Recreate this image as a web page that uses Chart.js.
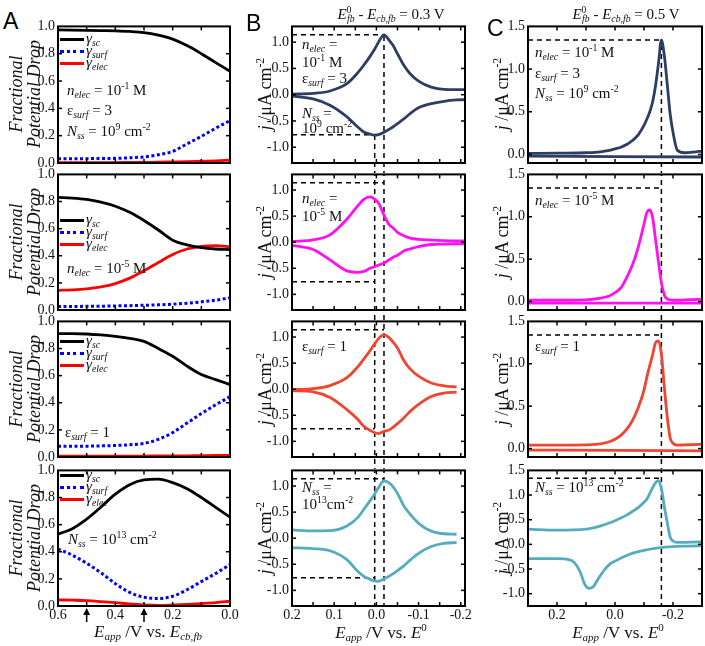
<!DOCTYPE html>
<html>
<head>
<meta charset="utf-8">
<script src="https://cdn.jsdelivr.net/npm/chart.js@4.4.0/dist/chart.umd.min.js"></script>
<style>
body { margin: 0; background: #fff; }
#fig { position: relative; width: 705px; height: 646px; overflow: hidden; background: #fff;
       font-family: 'Liberation Serif', serif; color: #111; }
#fig canvas { position: absolute; }
#fig sub, #fig sup { font-size: 0.65em; line-height: 0; }
#fig sub { vertical-align: -0.32em; font-style: italic; }
#fig sup { vertical-align: 0.6em; }
.t { position: absolute; white-space: nowrap; line-height: 1; transform: translateY(-50%); }
.tc { position: absolute; white-space: nowrap; line-height: 1; transform: translate(-50%, -50%); }
.rot { position: absolute; white-space: nowrap; line-height: 1; transform: translate(-50%, -50%) rotate(-90deg); }
.letter { position: absolute; font-family: 'Liberation Sans', sans-serif; font-size: 23px; line-height: 1; color: #000; }
.leg { position: absolute; width: 24px; height: 0; }
</style>
</head>
<body>
<div id="fig"></div>
<script>
// ---------- column A : fractional potential drop ----------
const aX = [0.6, 0.55, 0.5, 0.45, 0.4, 0.35, 0.3, 0.25, 0.2, 0.15, 0.1, 0.05, 0.0];
const a1Sc   = [0.975, 0.973, 0.971, 0.969, 0.967, 0.963, 0.955, 0.936, 0.907, 0.86, 0.80, 0.735, 0.672];
const a1Surf = [0.032, 0.032, 0.032, 0.033, 0.034, 0.038, 0.045, 0.06, 0.085, 0.14, 0.195, 0.255, 0.31];
const a1Elec = [0.002, 0.002, 0.002, 0.003, 0.003, 0.004, 0.005, 0.006, 0.008, 0.01, 0.013, 0.016, 0.02];
const a2Sc   = [0.83, 0.825, 0.815, 0.795, 0.765, 0.72, 0.66, 0.59, 0.515, 0.48, 0.46, 0.45, 0.445];
const a2Surf = [0.025, 0.026, 0.027, 0.028, 0.03, 0.032, 0.035, 0.038, 0.043, 0.05, 0.06, 0.072, 0.09];
const a2Elec = [0.145, 0.148, 0.155, 0.17, 0.195, 0.235, 0.29, 0.35, 0.41, 0.45, 0.47, 0.475, 0.465];
const a3Sc   = [0.91, 0.91, 0.907, 0.9, 0.89, 0.875, 0.853, 0.80, 0.743, 0.67, 0.608, 0.571, 0.534];
const a3Surf = [0.08, 0.08, 0.08, 0.082, 0.085, 0.09, 0.1, 0.13, 0.18, 0.25, 0.32, 0.385, 0.445];
const a3Elec = [0.006, 0.006, 0.006, 0.006, 0.007, 0.007, 0.007, 0.008, 0.008, 0.009, 0.01, 0.011, 0.012];
const a4Sc   = [0.53, 0.57, 0.64, 0.73, 0.825, 0.895, 0.93, 0.935, 0.91, 0.865, 0.80, 0.727, 0.655];
const a4Surf = [0.42, 0.375, 0.315, 0.245, 0.165, 0.10, 0.065, 0.055, 0.072, 0.12, 0.18, 0.24, 0.305];
const a4Elec = [0.045, 0.043, 0.04, 0.033, 0.025, 0.015, 0.008, 0.005, 0.008, 0.012, 0.018, 0.025, 0.035];
const aArrows = [0.5, 0.3];

// ---------- column B : CVs, E0fb - Ecb,fb = 0.3 V ----------
const bX = [0.2, 0.15, 0.11, 0.07, 0.045, 0.03, 0.015, 0.005, -0.005, -0.018,
            -0.03, -0.04, -0.05, -0.065, -0.08, -0.1, -0.13, -0.16, -0.19, -0.21];
const b1Up = [0.01, 0.025, 0.07, 0.21, 0.41, 0.56, 0.73, 0.855, 1.0, 1.14, 1.04, 0.93, 0.78, 0.56, 0.4, 0.26, 0.145, 0.1, 0.095, 0.095];
const b1Dn = [-0.025, -0.08, -0.2, -0.42, -0.61, -0.71, -0.75, -0.77, -0.76, -0.715, -0.66, -0.61, -0.55, -0.46, -0.36, -0.25, -0.17, -0.125, -0.1, -0.095];
const b2Up = [0.012, 0.045, 0.14, 0.44, 0.69, 0.82, 0.87, 0.83, 0.75, 0.52, 0.34, 0.27, 0.19, 0.125, 0.08, 0.055, 0.04, 0.03, 0.025, 0.025];
const b2Dn = [-0.06, -0.14, -0.34, -0.55, -0.58, -0.56, -0.5, -0.47, -0.44, -0.4, -0.34, -0.29, -0.25, -0.17, -0.13, -0.085, -0.044, -0.035, -0.03, -0.03];
const b3Up = [-0.01, 0.01, 0.07, 0.22, 0.42, 0.575, 0.74, 0.86, 0.97, 1.04, 0.99, 0.9, 0.79, 0.55, 0.39, 0.25, 0.12, 0.065, 0.045, null];
const b3Dn = [-0.03, -0.05, -0.16, -0.39, -0.57, -0.71, -0.79, -0.83, -0.85, -0.81, -0.78, -0.725, -0.66, -0.55, -0.425, -0.29, -0.14, -0.075, -0.056, null];
const b4Up = [0.16, 0.14, 0.145, 0.235, 0.39, 0.55, 0.72, 0.84, 0.97, 1.1, 1.06, 0.98, 0.86, 0.62, 0.46, 0.285, 0.135, 0.085, 0.076, null];
const b4Dn = [-0.18, -0.2, -0.24, -0.41, -0.63, -0.73, -0.79, -0.82, -0.825, -0.78, -0.73, -0.68, -0.62, -0.53, -0.42, -0.29, -0.16, -0.1, -0.083, null];
const bPeakAn = { x: -0.018, y: 1.14 };
const bPeakCa = { x: 0.004, y: -0.76 };

// ---------- column C : CVs, E0fb - Ecb,fb = 0.5 V ----------
const cX = [0.3, 0.2, 0.1, 0.05, 0.02, 0.0, -0.02, -0.04, -0.06, -0.08, -0.1, -0.11, -0.12,
            -0.13, -0.14, -0.15, -0.16, -0.17, -0.18, -0.19, -0.2, -0.215, -0.24, -0.27, -0.3];
const c1Up = [0.012, 0.015, 0.02, 0.03, 0.047, 0.066, 0.085, 0.116, 0.163, 0.23, 0.34, 0.415, 0.5,
              0.62, 0.81, 1.07, 1.34, 1.16, 0.83, 0.48, 0.26, 0.05, 0.02, 0.027, 0.04];
const c2Up = [0.015, 0.015, 0.02, 0.04, 0.066, 0.105, 0.16, 0.28, 0.43, 0.64, 0.915, 1.05, 1.08,
              0.985, 0.725, 0.465, 0.22, 0.078, 0.03, 0.02, 0.015, 0.015, 0.02, 0.023, 0.027];
const c3Up = [0.04, 0.04, 0.043, 0.054, 0.08, 0.11, 0.155, 0.225, 0.33, 0.48, 0.69, 0.845, 0.98,
              1.11, 1.25, 1.27, 1.115, 0.73, 0.38, 0.128, 0.062, 0.04, 0.043, 0.047, 0.05];
const c4Up = [0.31, 0.287, 0.307, 0.373, 0.433, 0.48, 0.533, 0.593, 0.667, 0.747, 0.853, 0.92, 1.033,
              1.153, 1.253, 1.29, 1.13, 0.77, 0.45, 0.15, 0.067, 0.04, 0.04, 0.047, 0.053];
const cLowX = [0.3, 0.0, -0.3];
const c1Dn = [-0.02, -0.025, -0.03];
const c2Dn = [-0.02, -0.02, -0.02];
const c3Dn = [-0.018, -0.022, -0.028];
const c4DnX = [0.3, 0.2, 0.16, 0.14, 0.12, 0.105, 0.09, 0.075, 0.06, 0.04, 0.02, 0.0, -0.05, -0.1, -0.15, -0.2, -0.25, -0.3];
const c4Dn  = [-0.29, -0.29, -0.31, -0.37, -0.56, -0.8, -0.89, -0.86, -0.72, -0.545, -0.41, -0.34, -0.2, -0.12, -0.07, -0.045, -0.035, -0.027];
const cPeak = { x: -0.16, y: 1.34 };

// ---------- ticks ----------
const aXTicks = [0.6, 0.5, 0.4, 0.3, 0.2, 0.1, 0.0];
const aXLabels = [0.6, 0.4, 0.2, 0.0];
const aYTicks = [0, 0.2, 0.4, 0.6, 0.8, 1.0];
const bXTicks = [0.2, 0.15, 0.1, 0.05, 0, -0.05, -0.1, -0.15, -0.2];
const bXLabels = [0.2, 0.1, 0, -0.1, -0.2];
const bYTicks = [-1, -0.5, 0, 0.5, 1];
const cXTicks = [0.2, 0.1, 0, -0.1, -0.2];
const cXLabels = [0.2, 0, -0.2];
const cYTicks = [0, 0.5, 1, 1.5];
const cYTicks4 = [-1, -0.5, 0, 0.5, 1, 1.5];

// colours
const NAVY = '#2e3d63', MAGENTA = '#ff10f0', ORANGE = '#ef4631', TEAL = '#55acbe';

const TICK_FONT = { family: '"Liberation Serif", "Times New Roman", serif', size: 14 };
Chart.defaults.font.family = TICK_FONT.family;
Chart.defaults.font.size = 14;
Chart.defaults.color = '#000';

const fig = document.getElementById('fig');
const rowsY = [[25, 163], [173, 310], [320, 457], [469, 606]];
const YAX = 36, PADT = 10, PADR = 14;

function pts(xs, ys) { return xs.map((x, i) => ({ x: x, y: ys[i] })); }
function near(list, v) { return list.some(t => Math.abs(t - v) < 1e-6); }
function fmt(v) { return (Math.abs(v) < 1e-9 ? 0 : v).toFixed(1); }

function line(color, xs, ys, dash) {
    return {
        data: pts(xs, ys), borderColor: color, borderWidth: dash ? 3 : 2.8,
        borderDash: dash || [], pointRadius: 0, fill: false,
        cubicInterpolationMode: 'monotone', spanGaps: false
    };
}

// frame, inward ticks, dashed guides, arrows
function makeDeco(cfg, canvasTop, gapBelow) {
    return {
        id: 'deco',
        beforeDatasetsDraw(chart) {
            const { ctx, chartArea: a } = chart;
            const x = chart.scales.x, y = chart.scales.y;
            ctx.save();
            ctx.strokeStyle = '#000';
            ctx.lineWidth = 1.5;
            ctx.setLineDash([5, 4]);
            (cfg.hLines || []).forEach(l => {
                const py = y.getPixelForValue(l.y), px = x.getPixelForValue(l.x);
                ctx.lineDashOffset = 0;
                ctx.beginPath(); ctx.moveTo(a.left, py); ctx.lineTo(px, py); ctx.stroke();
            });
            (cfg.vLines || []).forEach(l => {
                const px = x.getPixelForValue(l.x);
                const y0 = (l.from == null) ? a.top : y.getPixelForValue(l.from);
                const y1 = a.bottom + gapBelow;
                ctx.lineDashOffset = canvasTop + y0;
                ctx.beginPath(); ctx.moveTo(px, y0); ctx.lineTo(px, y1); ctx.stroke();
            });
            ctx.restore();
        },
        afterDraw(chart) {
            const { ctx, chartArea: a } = chart;
            const x = chart.scales.x, y = chart.scales.y;
            ctx.save();
            ctx.strokeStyle = '#000';
            ctx.lineWidth = 1.5;
            const seg = (x0, y0, x1, y1) => { ctx.beginPath(); ctx.moveTo(x0, y0); ctx.lineTo(x1, y1); ctx.stroke(); };
            x.ticks.forEach(t => {
                const px = x.getPixelForValue(t.value);
                if (px < a.left + 1 || px > a.right - 1) return;
                seg(px, a.bottom, px, a.bottom - 4);
                seg(px, a.top, px, a.top + 4);
            });
            y.ticks.forEach(t => {
                const py = y.getPixelForValue(t.value);
                if (py < a.top + 1 || py > a.bottom - 1) return;
                seg(a.left, py, a.left + 4, py);
                seg(a.right, py, a.right - 4, py);
            });
            ctx.lineWidth = 2;
            ctx.strokeRect(a.left, a.top, a.right - a.left, a.bottom - a.top);
            (cfg.arrows || []).forEach(v => {
                const px = x.getPixelForValue(v);
                ctx.lineWidth = 1.5;
                seg(px, a.bottom + 16, px, a.bottom + 6);
                ctx.fillStyle = '#000';
                ctx.beginPath();
                ctx.moveTo(px, a.bottom + 2);
                ctx.lineTo(px - 3.5, a.bottom + 9);
                ctx.lineTo(px + 3.5, a.bottom + 9);
                ctx.closePath(); ctx.fill();
            });
            ctx.restore();
        }
    };
}

function panel(cfg) {
    const top = rowsY[cfg.row][0], bottom = rowsY[cfg.row][1];
    const last = cfg.row === 3;
    const xH = last ? 26 : 14;
    const gapBelow = last ? 0 : rowsY[cfg.row + 1][0] - bottom;
    const w = YAX + (cfg.right - cfg.left) + PADR;
    const h = PADT + (bottom - top) + xH;
    const cv = document.createElement('canvas');
    cv.width = w; cv.height = h;
    cv.style.width = w + 'px'; cv.style.height = h + 'px';
    const canvasTop = top - PADT;
    cv.style.left = (cfg.left - YAX) + 'px';
    cv.style.top = canvasTop + 'px';
    fig.appendChild(cv);
    new Chart(cv, {
        type: 'line',
        data: { datasets: cfg.datasets },
        options: {
            responsive: false, animation: false, maintainAspectRatio: false,
            devicePixelRatio: 1,
            layout: { padding: { top: PADT, right: PADR, left: 0, bottom: 0 } },
            plugins: { legend: { display: false }, tooltip: { enabled: false } },
            scales: {
                x: {
                    type: 'linear', reverse: true, min: cfg.xMin, max: cfg.xMax,
                    grid: { display: false, drawTicks: false }, border: { display: false },
                    afterBuildTicks: s => { s.ticks = cfg.xTicks.map(v => ({ value: v })); },
                    afterFit: s => { s.height = xH; },
                    ticks: {
                        display: last, autoSkip: false, maxRotation: 0, minRotation: 0, padding: 1,
                        font: TICK_FONT, color: '#111',
                        callback: v => near(cfg.xLabels, v) ? fmt(v) : ''
                    }
                },
                y: {
                    type: 'linear', min: cfg.yMin, max: cfg.yMax,
                    grid: { display: false, drawTicks: false }, border: { display: false },
                    afterBuildTicks: s => { s.ticks = cfg.yTicks.map(v => ({ value: v })); },
                    afterFit: s => { s.width = YAX; },
                    ticks: { autoSkip: false, padding: 3, font: TICK_FONT, color: '#111', callback: v => fmt(v) }
                }
            }
        },
        plugins: [makeDeco(cfg, canvasTop, gapBelow)]
    });
}

// ---- column A ----
const aSets = [[a1Sc, a1Surf, a1Elec], [a2Sc, a2Surf, a2Elec], [a3Sc, a3Surf, a3Elec], [a4Sc, a4Surf, a4Elec]];
aSets.forEach((s, r) => {
    panel({
        row: r, left: 58, right: 230, xMin: 0, xMax: 0.6, yMin: 0, yMax: 1,
        xTicks: aXTicks, xLabels: aXLabels, yTicks: aYTicks,
        arrows: r === 3 ? aArrows : [],
        datasets: [
            line('#000000', aX, s[0]),
            line('#0000ff', aX, s[1], [3, 2.5]),
            line('#ff0000', aX, s[2])
        ]
    });
});

// ---- column B ----
const bSets = [[NAVY, b1Up, b1Dn], [MAGENTA, b2Up, b2Dn], [ORANGE, b3Up, b3Dn], [TEAL, b4Up, b4Dn]];
bSets.forEach((s, r) => {
    panel({
        row: r, left: 292, right: 465, xMin: -0.21, xMax: 0.2, yMin: -1.3, yMax: 1.3,
        xTicks: bXTicks, xLabels: bXLabels, yTicks: bYTicks,
        hLines: [{ x: bPeakAn.x, y: bPeakAn.y }, { x: bPeakCa.x, y: bPeakCa.y }],
        vLines: [{ x: bPeakAn.x, from: r === 0 ? bPeakAn.y : null }, { x: bPeakCa.x, from: r === 0 ? bPeakCa.y : null }],
        datasets: [line(s[0], bX, s[1]), line(s[0], bX, s[2])]
    });
});

// ---- column C ----
const cSets = [[NAVY, c1Up, cLowX, c1Dn], [MAGENTA, c2Up, cLowX, c2Dn], [ORANGE, c3Up, cLowX, c3Dn], [TEAL, c4Up, c4DnX, c4Dn]];
cSets.forEach((s, r) => {
    panel({
        row: r, left: 528, right: 702, xMin: -0.3, xMax: 0.3,
        yMin: r === 3 ? -1.25 : -0.1, yMax: 1.5,
        xTicks: cXTicks, xLabels: cXLabels, yTicks: r === 3 ? cYTicks4 : cYTicks,
        hLines: [{ x: cPeak.x, y: cPeak.y }],
        vLines: [{ x: cPeak.x, from: r === 0 ? cPeak.y : null }],
        datasets: [line(s[0], cX, s[1]), line(s[0], s[2], s[3])]
    });
});

// ---------- text ----------
function txt(html, x, y, size, cls) {
    const d = document.createElement('div');
    d.className = cls || 't';
    d.style.left = x + 'px';
    d.style.top = y + 'px';
    if (size) d.style.fontSize = size + 'px';
    d.innerHTML = html;
    fig.appendChild(d);
    return d;
}

// panel letters
txt('A', 3, 10, 0, 'letter');
txt('B', 246, 12, 0, 'letter');
txt('C', 487, 17, 0, 'letter');

// column headers
txt('<i>E</i><sup>0</sup><sub style="margin-left:-0.45em">fb</sub> - <i>E</i><sub>cb,fb</sub> = 0.3 V', 391, 14, 15, 'tc');
txt('<i>E</i><sup>0</sup><sub style="margin-left:-0.45em">fb</sub> - <i>E</i><sub>cb,fb</sub> = 0.5 V', 626, 14, 15, 'tc');

// axis titles
rowsY.forEach(r => {
    const cy = (r[0] + r[1]) / 2;
    txt('<i>Fractional</i>', 16, cy, 18, 'rot');
    txt('<i>Potential Drop</i>', 34, cy, 18, 'rot');
    txt('<i>j</i> /μA cm<sup>-2</sup>', 265, cy, 18, 'rot');
    txt('<i>j</i> /μA cm<sup>-2</sup>', 502, cy, 18, 'rot');
});
txt('<i>E</i><sub>app</sub> /V vs. <i>E</i><sub>cb,fb</sub>', 148, 631, 17, 'tc');
txt('<i>E</i><sub>app</sub> /V vs. <i>E</i><sup>0</sup>', 381, 632, 17, 'tc');
txt('<i>E</i><sub>app</sub> /V vs. <i>E</i><sup>0</sup>', 618, 632, 17, 'tc');

// legends in column A
const legY = [39, 220, 341, 475];
legY.forEach(y0 => {
    const items = [['3px solid #000', 'sc'], ['3px dotted #0000ff', 'surf'], ['3px solid #ff0000', 'elec']];
    items.forEach((it, i) => {
        const l = document.createElement('div');
        l.className = 'leg';
        l.style.left = '60px';
        l.style.top = (y0 + i * 12 - 1.5) + 'px';
        l.style.borderTop = it[0];
        fig.appendChild(l);
        txt('<i>γ</i><sub>' + it[1] + '</sub>', 86, y0 + i * 12 - 1, 15);
    });
});

// annotations column A
txt('<i>n</i><sub>elec</sub> = 10<sup>-1</sup> M', 67, 90, 15);
txt('ε<sub>surf</sub> = 3', 67, 110, 15);
txt('<i>N</i><sub>ss</sub> = 10<sup>9</sup> cm<sup>-2</sup>', 67, 131, 15);
txt('<i>n</i><sub>elec</sub> = 10<sup>-5</sup> M', 67, 268, 15);
txt('ε<sub>surf</sub> = 1', 65, 432, 15);
txt('<i>N</i><sub>ss</sub> = 10<sup>13</sup> cm<sup>-2</sup>', 68, 539, 15);

// annotations column B
txt('<i>n</i><sub>elec</sub> =', 302, 44, 15);
txt('10<sup>-1</sup> M', 302, 62, 15);
txt('ε<sub>surf</sub> = 3', 302, 78, 15);
txt('<i>N</i><sub>ss</sub> =', 302, 113, 15);
txt('10<sup>9</sup> cm<sup>-2</sup>', 302, 128, 15);
txt('<i>n</i><sub>elec</sub> =', 302, 198, 15);
txt('10<sup>-5</sup> M', 302, 216, 15);
txt('ε<sub>surf</sub> = 1', 302, 346, 15);
txt('<i>N</i><sub>ss</sub> =', 302, 487, 15);
txt('10<sup>13</sup>cm<sup>-2</sup>', 302, 504, 15);

// annotations column C
txt('<i>n</i><sub>elec</sub> = 10<sup>-1</sup> M', 535, 52, 15);
txt('ε<sub>surf</sub> = 3', 535, 73, 15);
txt('<i>N</i><sub>ss</sub> = 10<sup>9</sup> cm<sup>-2</sup>', 535, 93, 15);
txt('<i>n</i><sub>elec</sub> = 10<sup>-5</sup> M', 535, 200, 15);
txt('ε<sub>surf</sub> = 1', 535, 346, 15);
txt('<i>N</i><sub>ss</sub> = 10<sup>13</sup> cm<sup>-2</sup>', 535, 487, 15);
</script>
</body>
</html>
